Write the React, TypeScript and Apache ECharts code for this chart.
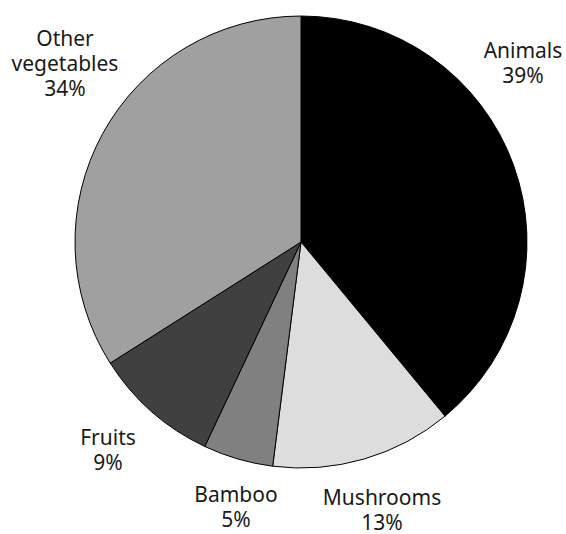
import React, { useEffect, useRef } from "react";
import * as echarts from "echarts";

const categories = ["Animals", "Mushrooms", "Bamboo", "Fruits", "Other\nvegetables"];
const values = [39, 13, 5, 9, 34];
const colors = ["#000000", "#dddddd", "#808080", "#404040", "#a0a0a0"];
// label centre positions (layout, px)
const labelPositions: [number, number][] = [
  [523, 62],
  [382, 509],
  [236, 506],
  [108, 449],
  [65, 63],
];

export default function App() {
  const ref = useRef<HTMLDivElement>(null);
  useEffect(() => {
    if (!ref.current) return;
    const chart = echarts.init(ref.current, null, { renderer: "svg" });
    chart.setOption({
      animation: false,
      backgroundColor: "#ffffff",
      series: [
        {
          type: "pie",
          center: [301, 242],
          radius: 226,
          startAngle: 90,
          clockwise: true,
          data: categories.map((c, i) => ({
            name: c,
            value: values[i],
            itemStyle: { color: colors[i] },
          })),
          itemStyle: { borderColor: "#000000", borderWidth: 1 },
          label: {
            show: true,
            position: "outside",
            formatter: "{b}\n{d}%",
            fontFamily: "Noto Sans",
            fontSize: 21,
            lineHeight: 25,
            color: "#1a1a1a",
            align: "center",
            overflow: "none",
            width: 160,
          },
          labelLine: { show: false },
          labelLayout: (p: any) => {
            const pos = labelPositions[p.dataIndex];
            return { x: pos[0], y: pos[1], align: "center", verticalAlign: "middle" };
          },
          emphasis: { disabled: true },
        },
      ],
    });
    return () => chart.dispose();
  }, []);
  return (
    <div
      ref={ref}
      style={{ position: "absolute", left: 0, top: 0, width: 566, height: 534 }}
    />
  );
}
